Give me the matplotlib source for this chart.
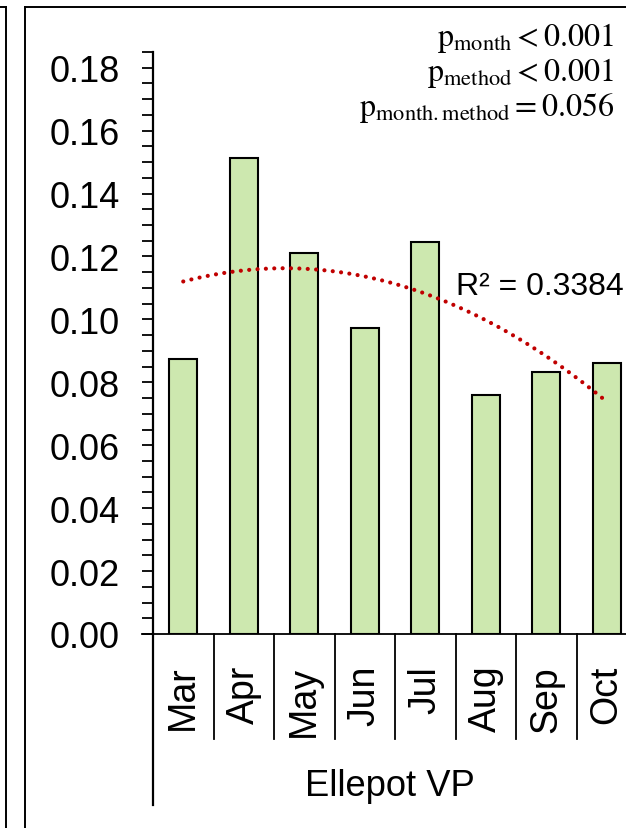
#!/usr/bin/python
import numpy as np
import matplotlib
matplotlib.use('Agg')
import matplotlib.pyplot as plt
from matplotlib.lines import Line2D
from matplotlib.ticker import MultipleLocator, FormatStrFormatter

#===============================
months = ['Mar', 'Apr', 'May', 'Jun', 'Jul', 'Aug', 'Sep', 'Oct']
values = [0.0875, 0.1514, 0.1212, 0.0973, 0.1246, 0.0761, 0.0833, 0.0861]
group_label = 'Ellepot VP'
r2_label = 'R² = 0.3384'
p_labels = [r'$\mathrm{p}_{\mathrm{month}} < 0.001$',
            r'$\mathrm{p}_{\mathrm{method}} < 0.001$',
            r'$\mathrm{p}_{\mathrm{month.method}} = 0.056$']

#==================================
def DrawFig(filename):
  plt.rcParams['font.family'] = ['Liberation Sans', 'DejaVu Sans']
  plt.rcParams['mathtext.fontset'] = 'stix'

  W, H = 626, 829
  fig = plt.figure(figsize=(W / 100.0, H / 100.0), dpi=100)
  # axes area in pixels: x 153..637, y 53..635 (from top)
  ax = fig.add_axes([153.0 / W, (H - 635.0) / H, 484.0 / W, 582.0 / H])

  x = np.arange(len(months))
  ax.bar(x, values, width=0.46, color='#CDE8AF', edgecolor='black', linewidth=1.5, zorder=2)

  # 2nd order polynomial trend line
  coef = np.polyfit(x, values, 2)
  xs = np.linspace(0, len(months) - 1, 200)
  ax.plot(xs, np.polyval(coef, xs), color='#C00000', linewidth=3.0,
          linestyle=(0, (0.01, 2.0)), dash_capstyle='round', zorder=3)

  ax.set_xlim(-0.5, len(months) - 0.5)
  ax.set_ylim(0, 0.185)
  ax.yaxis.set_major_locator(MultipleLocator(0.02))
  ax.yaxis.set_minor_locator(MultipleLocator(0.005))
  ax.yaxis.set_major_formatter(FormatStrFormatter('%.2f'))
  ax.tick_params(axis='y', which='both', direction='out', length=8, width=1.3,
                 labelsize=26, pad=16)
  ax.set_xticks([])

  for s in ['top', 'right']:
    ax.spines[s].set_visible(False)
  ax.spines['left'].set_linewidth(1.6)
  ax.spines['bottom'].set_linewidth(1.3)
  ax.spines['bottom'].set_bounds(-0.69, len(months) - 0.5)

  # multi level category axis
  trans = ax.get_xaxis_transform()
  for i in range(len(months)):
    ax.text(i, -0.053, months[i], rotation=90, ha='center', va='top',
            fontsize=27, transform=trans, clip_on=False)
    ax.add_line(Line2D([i + 0.5, i + 0.5], [0, -0.1804], color='black', linewidth=1.3,
                       transform=trans, clip_on=False))
  ax.add_line(Line2D([-0.5, -0.5], [0, -0.294], color='black', linewidth=1.6,
                     transform=trans, clip_on=False))
  ax.text(0.49, -0.261, group_label, ha='center', va='center', fontsize=26.2,
          transform=ax.transAxes, clip_on=False)

  # annotations
  fig.text(624.0 / W, 1 - 287.0 / H, r2_label, ha='right', va='center', fontsize=23)
  for i in range(len(p_labels)):
    fig.text(614.0 / W, 1 - (38.0 + 35.0 * i) / H, p_labels[i], ha='right',
             va='center', fontsize=23)

  # panel borders
  fig.add_artist(Line2D([6.0 / W, 6.0 / W], [0, 1 - 7.5 / H], color='black', linewidth=1.4))
  fig.add_artist(Line2D([0, 6.0 / W], [1 - 7.5 / H, 1 - 7.5 / H], color='black', linewidth=1.4))
  fig.add_artist(Line2D([25.0 / W, 25.0 / W], [0, 1 - 7.5 / H], color='black', linewidth=1.4))
  fig.add_artist(Line2D([25.0 / W, 1], [1 - 7.5 / H, 1 - 7.5 / H], color='black', linewidth=1.4))

  plt.savefig(filename, dpi=100)
  return

#==================================
def main():
  DrawFig('out.png')
  return

# -------------------------------
if __name__ == '__main__':
  main()
